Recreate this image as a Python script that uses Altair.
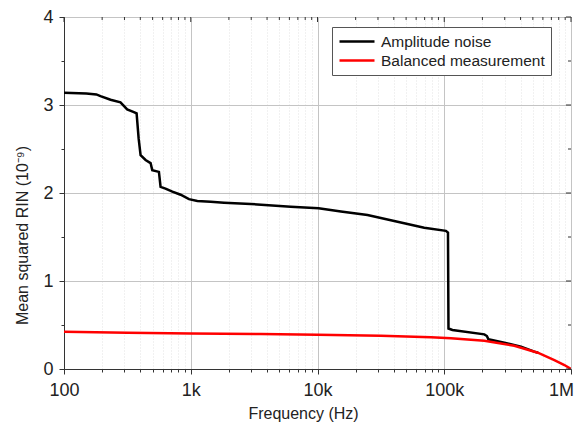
import altair as alt
import pandas as pd

# ---- data ----
amp_freq = [100, 150, 180, 194, 233, 279, 315, 356, 374, 388, 402, 440, 482, 497, 561, 578,
            632, 716, 832, 968, 1127, 1436, 1830, 3360, 6150, 10200, 15300, 24800, 42800,
            69500, 103000, 107000, 108000, 116000, 207000, 217000, 223000, 298000, 403000,
            514000, 550000]
amp_val = [3.14, 3.13, 3.12, 3.10, 3.06, 3.03, 2.95, 2.92, 2.905, 2.62, 2.43, 2.375, 2.34,
           2.26, 2.24, 2.07, 2.05, 2.015, 1.98, 1.93, 1.91, 1.90, 1.89, 1.87, 1.845, 1.826,
           1.79, 1.75, 1.674, 1.606, 1.57, 1.55, 0.46, 0.443, 0.394, 0.375, 0.337, 0.30,
           0.254, 0.197, 0.185]

bal_freq = [100, 316, 1000, 3570, 10000, 31600, 78500, 113000, 207000, 357000, 547000,
            739000, 887000, 1000000]
bal_val = [0.424, 0.413, 0.403, 0.397, 0.39, 0.378, 0.36, 0.349, 0.32, 0.265, 0.185,
           0.10, 0.045, 0.0]

series_names = ["Amplitude noise", "Balanced measurement"]
series_colors = ["#000000", "#ff0000"]

x_major = [100, 1000, 10000, 100000, 1000000]
x_labels = ["100", "1k", "10k", "100k", "1M"]
x_minor = [m * d for d in [100, 1000, 10000, 100000] for m in range(2, 10)]
y_major = [0, 1, 2, 3, 4]
y_minor = [0.5, 1.5, 2.5, 3.5]

W, H = 507, 352
FONT = "Liberation Sans"
TXT = "#222222"

df = pd.DataFrame(
    {"freq": amp_freq + bal_freq,
     "val": amp_val + bal_val,
     "series": [series_names[0]] * len(amp_freq) + [series_names[1]] * len(bal_freq)}
)

xscale = alt.Scale(type="log", domain=[100, 1000000], nice=False)
yscale = alt.Scale(domain=[0, 4], nice=False, zero=False)

major_test = "indexof([100,1000,10000,100000,1000000], datum.value) >= 0"
label_expr = " : ".join(
    [f"datum.value == {v} ? '{l}'" for v, l in zip(x_major, x_labels)]) + " : ''"

x_axis = alt.Axis(
    values=sorted(x_major + x_minor),
    labelExpr=label_expr,
    labelFlush=False,
    labelOffset={"condition": {"test": "datum.value == 1000000", "value": -10}, "value": 0},
    title="Frequency (Hz)",
    titleX=239,
    tickSize={"condition": {"test": major_test, "value": 5}, "value": 3},
    grid=True,
    gridColor={"condition": {"test": major_test, "value": "#c4c4c4"}, "value": "#e2e2e2"},
    gridDash={"condition": {"test": major_test, "value": []}, "value": [1, 2]},
    gridWidth=1,
    labelPadding=7,
    titlePadding=6,
)
y_axis = alt.Axis(
    values=y_major + y_minor,
    labelExpr="datum.value % 1 == 0 ? datum.value : ''",
    title="Mean squared RIN (10⁻⁹)",
    titleY=218,
    tickSize={"condition": {"test": "datum.value % 1 == 0", "value": 5}, "value": 3},
    grid=True,
    gridColor="#c4c4c4",
    gridOpacity={"condition": {"test": "datum.value % 1 == 0", "value": 1}, "value": 0},
    labelPadding=6,
    titlePadding=12,
)

lines = alt.Chart(df).mark_line(strokeWidth=2.5, clip=True).encode(
    x=alt.X("freq:Q", scale=xscale, axis=x_axis),
    y=alt.Y("val:Q", scale=yscale, axis=y_axis),
    color=alt.Color(
        "series:N",
        scale=alt.Scale(domain=series_names, range=series_colors),
        legend=alt.Legend(
            title=None, orient="none", legendX=268, legendY=10,
            symbolType="M-1,0H4", symbolStrokeWidth=2.5, symbolSize=196,
            symbolFillColor="transparent",
            labelFontSize=15.5, labelFont=FONT, labelColor=TXT, labelLimit=400,
            strokeColor="#555555", fillColor="white", padding=6,
            labelOffset=26, rowPadding=2,
        ),
    ),
)

# inward ticks on the top and right edges
top_major = alt.Chart(pd.DataFrame({"x": x_major})).mark_rule(color="#333333").encode(
    x=alt.X("x:Q", scale=xscale), y=alt.value(0), y2=alt.value(5))
top_minor = alt.Chart(pd.DataFrame({"x": x_minor})).mark_rule(color="#333333").encode(
    x=alt.X("x:Q", scale=xscale), y=alt.value(0), y2=alt.value(3))
right_major = alt.Chart(pd.DataFrame({"y": y_major})).mark_rule(color="#333333").encode(
    y=alt.Y("y:Q", scale=yscale), x=alt.value(W), x2=alt.value(W - 5))
right_minor = alt.Chart(pd.DataFrame({"y": y_minor})).mark_rule(color="#333333").encode(
    y=alt.Y("y:Q", scale=yscale), x=alt.value(W), x2=alt.value(W - 3))

chart = alt.layer(lines, top_major, top_minor, right_major, right_minor).properties(
    width=W, height=H,
    autosize=alt.AutoSizeParams(type="none"),
    padding={"left": 56, "top": 9, "right": 5, "bottom": 54},
).configure_view(
    stroke="#333333", strokeWidth=1
).configure_axis(
    labelFont=FONT, titleFont=FONT, labelFontSize=18, titleFontSize=16,
    labelColor=TXT, titleColor=TXT, titleFontWeight="normal",
    domainColor="#333333", tickColor="#333333",
)

chart.save("out.html", embed_options={"renderer": "svg", "actions": False})
